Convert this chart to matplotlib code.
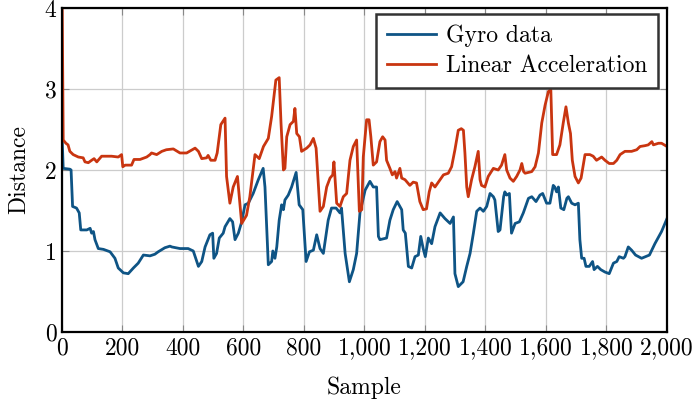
import matplotlib
matplotlib.use("Agg")
import matplotlib.pyplot as plt

plt.rcParams["font.family"] = ["cmr10", "DejaVu Serif"]
plt.rcParams["axes.formatter.use_mathtext"] = True
plt.rcParams["mathtext.fontset"] = "cm"

# Gyro distance per sample
gyro_samples = [0, 4, 26, 30, 35, 48, 57, 62, 82, 93, 98, 104, 109, 120, 137, 159, 175, 186,
                203, 219, 236, 252, 269, 291, 307, 318, 340, 357, 363, 390, 417, 434, 451,
                462, 473, 489, 498, 502, 511, 520, 533, 539, 555, 564, 572, 583, 594, 605,
                616, 632, 649, 665, 671, 682, 693, 697, 704, 710, 718, 726, 732, 737, 748,
                759, 774, 784, 796, 807, 818, 831, 842, 853, 864, 880, 891, 906, 919, 924,
                936, 950, 963, 974, 985, 1002, 1018, 1029, 1040, 1046, 1051, 1073, 1084,
                1095, 1108, 1123, 1128, 1135, 1145, 1156, 1167, 1178, 1186, 1194, 1201,
                1211, 1222, 1233, 1250, 1266, 1283, 1294, 1299, 1310, 1326, 1338, 1349,
                1360, 1371, 1382, 1393, 1404, 1415, 1426, 1431, 1442, 1448, 1460, 1464,
                1470, 1479, 1486, 1498, 1512, 1525, 1542, 1553, 1567, 1580, 1589, 1602,
                1613, 1624, 1629, 1635, 1641, 1649, 1659, 1669, 1674, 1685, 1696, 1707,
                1712, 1718, 1726, 1732, 1743, 1754, 1759, 1770, 1781, 1795, 1809, 1823,
                1834, 1842, 1856, 1861, 1872, 1883, 1896, 1916, 1929, 1942, 1960, 1982, 2000]
gyro_values = [2.45, 2.02, 2.01, 2.00, 1.55, 1.53, 1.47, 1.26, 1.26, 1.28, 1.22, 1.24, 1.14,
               1.03, 1.02, 0.99, 0.91, 0.79, 0.73, 0.72, 0.79, 0.85, 0.95, 0.94, 0.96, 0.99,
               1.04, 1.06, 1.05, 1.03, 1.03, 1.00, 0.81, 0.87, 1.05, 1.20, 1.22, 0.91, 0.97,
               1.16, 1.22, 1.30, 1.40, 1.36, 1.14, 1.22, 1.36, 1.57, 1.59, 1.71, 1.88, 2.02,
               1.79, 0.83, 0.87, 1.00, 0.91, 1.05, 1.38, 1.57, 1.51, 1.63, 1.69, 1.79, 1.97,
               1.57, 1.51, 0.87, 0.99, 1.01, 1.20, 1.03, 0.97, 1.38, 1.53, 1.53, 1.47, 1.53,
               0.97, 0.62, 0.77, 0.97, 1.47, 1.75, 1.86, 1.79, 1.79, 1.18, 1.14, 1.16, 1.38,
               1.51, 1.61, 1.51, 1.26, 1.22, 0.81, 0.79, 0.93, 0.95, 1.18, 1.03, 0.93, 1.16,
               1.09, 1.30, 1.47, 1.40, 1.34, 1.42, 0.72, 0.56, 0.62, 0.81, 0.97, 1.22, 1.49,
               1.53, 1.49, 1.55, 1.71, 1.67, 1.63, 1.24, 1.26, 1.67, 1.73, 1.69, 1.71, 1.22,
               1.34, 1.36, 1.47, 1.65, 1.67, 1.61, 1.69, 1.71, 1.59, 1.59, 1.81, 1.79, 1.73,
               1.79, 1.53, 1.51, 1.65, 1.67, 1.59, 1.57, 1.59, 1.14, 0.91, 0.91, 0.81, 0.81,
               0.87, 0.77, 0.81, 0.77, 0.74, 0.72, 0.85, 0.87, 0.93, 0.91, 0.93, 1.05, 1.01,
               0.95, 0.91, 0.93, 0.95, 1.09, 1.24, 1.40]

# Linear acceleration distance per sample
accel_samples = [0, 4, 13, 20, 26, 37, 54, 70, 76, 87, 98, 106, 115, 131, 142, 164, 186, 197,
                 201, 209, 230, 238, 258, 280, 291, 296, 313, 330, 345, 368, 390, 412, 440,
                 451, 462, 478, 483, 492, 506, 513, 525, 539, 544, 555, 566, 580, 585, 594,
                 610, 621, 630, 638, 652, 666, 682, 693, 707, 718, 724, 732, 737, 743, 754,
                 765, 770, 776, 785, 792, 809, 820, 831, 840, 853, 864, 875, 886, 895, 899,
                 908, 919, 930, 941, 952, 963, 974, 983, 991, 996, 1007, 1015, 1021, 1029,
                 1040, 1051, 1060, 1068, 1073, 1084, 1092, 1101, 1106, 1117, 1123, 1134,
                 1150, 1161, 1172, 1183, 1194, 1205, 1214, 1222, 1233, 1250, 1261, 1277,
                 1288, 1299, 1310, 1320, 1327, 1332, 1338, 1343, 1354, 1365, 1376, 1382,
                 1387, 1398, 1409, 1426, 1442, 1453, 1464, 1470, 1481, 1492, 1503, 1514,
                 1520, 1526, 1531, 1553, 1564, 1575, 1586, 1597, 1608, 1616, 1622, 1635,
                 1646, 1657, 1666, 1674, 1681, 1687, 1696, 1707, 1716, 1729, 1745, 1756,
                 1767, 1784, 1795, 1809, 1823, 1834, 1845, 1861, 1883, 1900, 1911, 1927,
                 1938, 1950, 1955, 1972, 1982, 2000]
accel_values = [4.40, 2.37, 2.33, 2.31, 2.23, 2.19, 2.16, 2.15, 2.10, 2.09, 2.12, 2.14, 2.10,
                2.17, 2.17, 2.17, 2.16, 2.19, 2.04, 2.06, 2.06, 2.13, 2.13, 2.16, 2.19, 2.21,
                2.19, 2.23, 2.25, 2.26, 2.21, 2.21, 2.27, 2.23, 2.14, 2.15, 2.18, 2.12, 2.12,
                2.21, 2.56, 2.64, 1.92, 1.59, 1.79, 1.92, 1.71, 1.34, 1.44, 1.67, 1.94, 2.19,
                2.14, 2.29, 2.39, 2.66, 3.11, 3.14, 2.58, 2.00, 2.02, 2.41, 2.56, 2.60, 2.76,
                2.45, 2.41, 2.23, 2.27, 2.31, 2.39, 2.27, 1.49, 1.55, 1.79, 1.90, 1.94, 2.10,
                1.59, 1.55, 1.67, 1.71, 2.12, 2.29, 2.37, 1.49, 1.51, 2.16, 2.62, 2.62, 2.41,
                2.06, 2.10, 2.35, 2.41, 2.37, 2.12, 2.02, 1.94, 1.98, 1.90, 2.02, 1.90, 1.88,
                1.81, 1.85, 1.84, 1.61, 1.51, 1.52, 1.73, 1.84, 1.79, 1.88, 1.94, 1.96, 2.04,
                2.25, 2.49, 2.51, 2.49, 2.21, 1.79, 1.67, 1.88, 2.04, 2.23, 1.88, 1.81, 1.79,
                1.92, 2.02, 2.00, 2.06, 2.19, 2.00, 1.90, 1.86, 1.92, 2.00, 2.08, 1.98, 1.96,
                1.98, 2.04, 2.21, 2.58, 2.80, 2.97, 2.99, 2.19, 2.19, 2.31, 2.58, 2.78, 2.58,
                2.45, 2.12, 1.92, 1.84, 1.90, 2.19, 2.19, 2.17, 2.12, 2.16, 2.12, 2.08, 2.08,
                2.12, 2.19, 2.23, 2.23, 2.25, 2.29, 2.30, 2.31, 2.35, 2.31, 2.33, 2.33, 2.29]

x_ticks = [0, 200, 400, 600, 800, 1000, 1200, 1400, 1600, 1800, 2000]
x_tick_labels = ["0", "200", "400", "600", "800", "1,000", "1,200", "1,400",
                 "1,600", "1,800", "2,000"]
y_ticks = [0, 1, 2, 3, 4]
y_tick_labels = ["0", "1", "2", "3", "4"]

FS = 17

fig = plt.figure(figsize=(6.95, 4.03), dpi=100)
ax = fig.add_axes([0.0892, 0.1762, 0.8705, 0.804])

ax.plot(gyro_samples, gyro_values, color="#0e5485", lw=2.0, label="Gyro data",
        solid_joinstyle="round")
ax.plot(accel_samples, accel_values, color="#c93510", lw=2.0, label="Linear Acceleration",
        solid_joinstyle="round")

ax.set_xlim(0, 2000)
ax.set_ylim(0, 4)
ax.set_xticks(x_ticks)
ax.set_xticklabels(x_tick_labels, fontsize=FS)
ax.set_yticks(y_ticks)
ax.set_yticklabels(y_tick_labels, fontsize=FS)
ax.tick_params(direction="in", length=5, width=0.8, color="#888888",
               top=True, right=True, pad=4)
ax.grid(True, color="#cccccc", lw=0.9)
ax.set_axisbelow(True)
for s in ax.spines.values():
    s.set_linewidth(1.6)
    s.set_color("black")

ax.set_xlabel("Sample", fontsize=FS, labelpad=12)
ax.set_ylabel("Distance", fontsize=FS, labelpad=10)

leg = ax.legend(loc="upper right", bbox_to_anchor=(0.985, 0.982), borderaxespad=0,
                fontsize=FS, frameon=True, fancybox=False, handlelength=2.1,
                handletextpad=0.4, borderpad=0.45, labelspacing=0.35)
leg.get_frame().set_edgecolor("#333333")
leg.get_frame().set_linewidth(1.8)
leg.get_frame().set_alpha(1)

fig.savefig("out.png", dpi=100)
